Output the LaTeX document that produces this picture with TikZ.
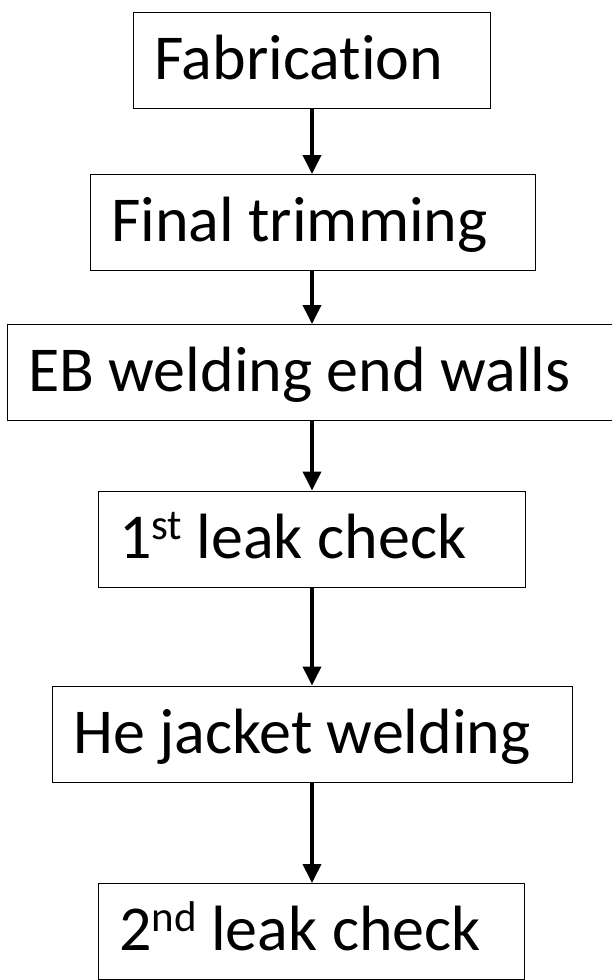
\documentclass[tikz,border=0pt]{standalone}
\usepackage{fontspec}
\setmainfont[Ligatures=NoCommon]{Carlito}
\usetikzlibrary{arrows.meta}
\newcommand{\supr}[1]{\raisebox{19pt}{\fontsize{43}{43}\selectfont #1}}
\newcommand{\boxtxt}[1]{\hbox{#1}\hfill}
\begin{document}
\begin{tikzpicture}[x=1pt,y=-1pt,
  stepbox/.style={draw=black, line width=1.3pt, anchor=north west, inner xsep=20.5pt, inner ysep=0pt,
    text height=67pt, text depth=29pt, align=flush left, font=\fontsize{64}{70}\selectfont},
  arr/.style={line width=3.8pt, -{Triangle[width=18pt,length=19pt]}}]
\useasboundingbox (0,0) rectangle (612,980);
\clip (0,0) rectangle (612,980);
\coordinate (ax) at (312,0);
\node[stepbox, text width=316pt] (fab) at (133,11.5) {\boxtxt{Fabrication}};
\node[stepbox, text width=404pt] (ft) at (90,174) {\boxtxt{Final trimming}};
\node[stepbox, text width=577pt] (eb) at (7,324) {\boxtxt{EB welding end walls}};
\node[stepbox, text width=386pt] (l1) at (98,490.5) {\boxtxt{1\supr{st} leak check}};
\node[stepbox, text width=479pt] (he) at (52,685.5) {\boxtxt{He jacket welding}};
\node[stepbox, text width=385pt] (l2) at (98,883) {\boxtxt{2\supr{nd} leak check}};
\draw[arr] (fab.south -| ax) -- (ft.north -| ax);
\draw[arr] (ft.south -| ax) -- (eb.north -| ax);
\draw[arr] (eb.south -| ax) -- (l1.north -| ax);
\draw[arr] (l1.south -| ax) -- (he.north -| ax);
\draw[arr] (he.south -| ax) -- (l2.north -| ax);
\end{tikzpicture}
\end{document}
